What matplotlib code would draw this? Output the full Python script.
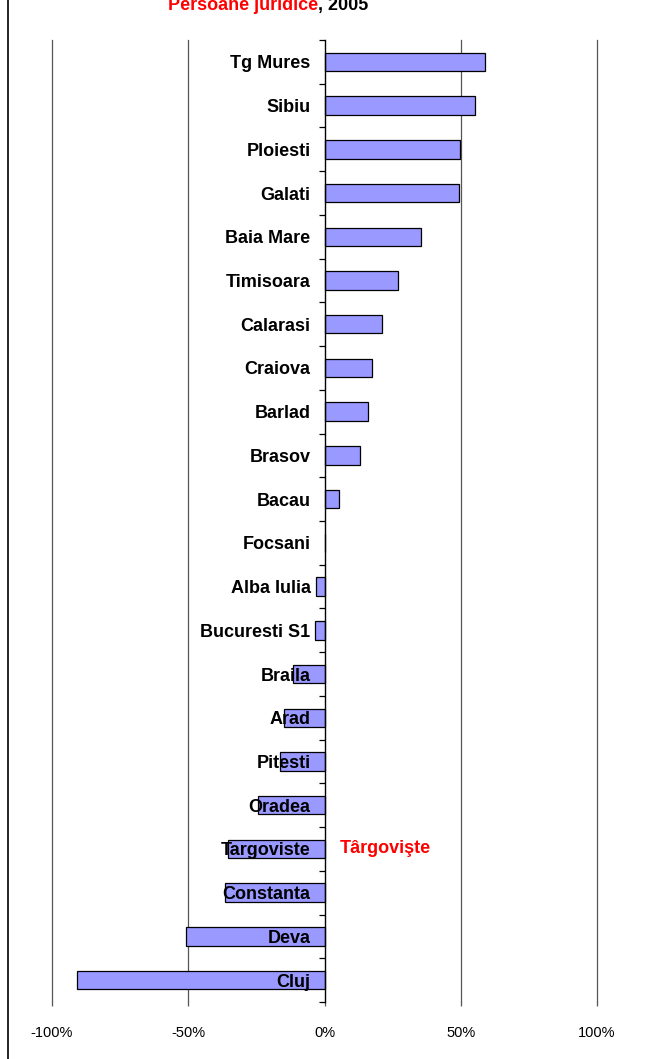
import matplotlib.pyplot as plt
from matplotlib.lines import Line2D
import numpy as np

plt.rcParams['font.family'] = ['Liberation Sans', 'DejaVu Sans']

cities = ['Tg Mures', 'Sibiu', 'Ploiesti', 'Galati', 'Baia Mare', 'Timisoara',
          'Calarasi', 'Craiova', 'Barlad', 'Brasov', 'Bacau', 'Focsani',
          'Alba Iulia', 'Bucuresti S1', 'Braila', 'Arad', 'Pitesti', 'Oradea',
          'Targoviste', 'Constanta', 'Deva', 'Cluj']
change = [58.8, 55.1, 49.6, 49.3, 35.4, 26.8, 21.0, 17.6, 15.8, 12.9, 5.2, 0.0,
          -3.0, -3.4, -11.4, -14.7, -16.5, -24.3, -35.5, -36.4, -50.8, -90.8]
xticks = [-100, -50, 0, 50, 100]
xlabels = ['-100%', '-50%', '0%', '50%', '100%']

fig = plt.figure(figsize=(6.47, 10.59), dpi=100)
ax = fig.add_axes([52/647, 1 - 1002/1059, (597-52)/647, (1002-40)/1059])

y = np.arange(len(cities))
ax.barh(y, change, height=0.42, color='#9999FF', edgecolor='black',
        linewidth=0.9, zorder=2)

ax.set_xlim(-100, 100)
ax.set_ylim(len(cities) - 0.5, -0.5)

# gridlines
for v in [-100, -50, 50, 100]:
    ax.axvline(v, color='#555555', linewidth=0.9, zorder=1, clip_on=False)

for s in ['top', 'right', 'bottom']:
    ax.spines[s].set_visible(False)
ax.spines['left'].set_position(('data', 0))
ax.spines['left'].set_linewidth(1.0)
ax.spines['left'].set_zorder(4)

ax.set_yticks(y)
ax.set_yticklabels(cities, fontsize=13, fontweight='bold')
ax.set_yticks(np.arange(len(cities) + 1) - 0.5, minor=True)
ax.tick_params(axis='y', which='major', length=0, pad=10)
ax.tick_params(axis='y', which='minor', length=4, direction='out', width=0.9)
ax.yaxis.set_zorder(5)

ax.set_xticks(xticks)
ax.set_xticklabels(xlabels, fontsize=10.5)
ax.tick_params(axis='x', length=3, direction='out', width=0.9, color='#555555', pad=14)

ax.text(5.5, 18, 'Târgovişte', color='red', fontsize=13, fontweight='bold',
        va='center', ha='left')

# title, cut off at the top edge
base = 1 - 10/1059
t1 = fig.text(168/647, base, 'Persoane juridice', color='red', fontsize=13,
              fontweight='bold', ha='left', va='baseline')
fig.canvas.draw()
bb = t1.get_window_extent(fig.canvas.get_renderer())
fig.text(bb.x1 / fig.bbox.width, base, ', 2005', color='black', fontsize=13,
         fontweight='bold', ha='left', va='baseline')

fig.add_artist(Line2D([8/647, 8/647], [0, 1], color='black', linewidth=1.2,
                      transform=fig.transFigure))

plt.savefig('out.png', dpi=100)
